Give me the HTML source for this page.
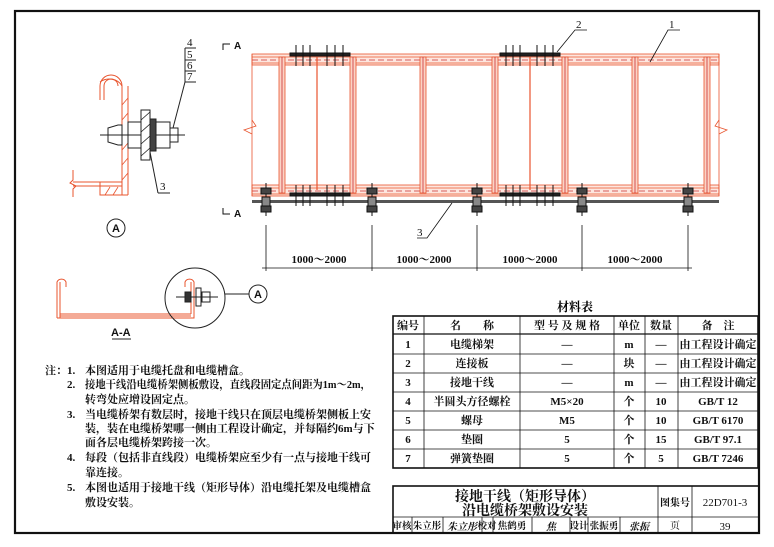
<!DOCTYPE html>
<html><head><meta charset="utf-8"><style>
body{margin:0;background:#fff;}
svg{display:block;font-family:"Liberation Serif","Noto Serif CJK SC","Noto Sans CJK SC",serif;}
.cn{font-family:"Liberation Serif","Noto Serif CJK SC",serif;}
</style></head><body>
<svg width="774" height="547" viewBox="0 0 774 547" xmlns="http://www.w3.org/2000/svg">
<rect x="0" y="0" width="774" height="547" fill="#fff"/>
<rect x="15" y="11" width="744" height="522" fill="none" stroke="#111" stroke-width="2.2"/>

<!-- Detail A -->
<g stroke="#e8542e" fill="none" stroke-width="1">
  <path d="M100 100 L100 86 A11 11 0 0 1 122 86 L122 195 L100 195 L100 182"/>
  <path d="M104 100 L104 86 A7 7 0 0 1 118 86"/>
  <line x1="128" y1="86" x2="128" y2="195"/>
  <path d="M122 86 A14 12 0 0 0 100 82" />
  <line x1="122" y1="195" x2="128" y2="195"/>
  <line x1="73" y1="182" x2="122" y2="182"/>
  <line x1="73" y1="186" x2="122" y2="186"/>
  <line x1="100" y1="195" x2="122" y2="195"/>
  <path d="M73 170 L73 180 L70 183 L76 186 L73 189 L73 197"/>
  <g stroke-width="0.8">
   <line x1="122" y1="105" x2="128" y2="98"/><line x1="122" y1="120" x2="128" y2="113"/><line x1="122" y1="150" x2="128" y2="143"/><line x1="122" y1="165" x2="128" y2="158"/><line x1="122" y1="180" x2="128" y2="173"/>
   <line x1="105" y1="195" x2="110" y2="187"/><line x1="113" y1="195" x2="118" y2="187"/>
  </g>
</g>
<g stroke="#222" fill="none" stroke-width="1">
  <line x1="100" y1="135" x2="185" y2="135"/>
  <path d="M108 128 L118 125 L122 125 L122 145 L118 145 L108 142 Z"/>
  <rect x="128" y="122" width="13" height="26"/>
  <rect x="141" y="110" width="9" height="50" fill="#fff"/>
  <g stroke-width="0.8"><line x1="141" y1="120" x2="150" y2="112"/><line x1="141" y1="132" x2="150" y2="124"/><line x1="141" y1="144" x2="150" y2="136"/><line x1="141" y1="156" x2="150" y2="148"/></g>
  <rect x="150" y="119" width="6" height="32" fill="#444"/>
  <rect x="156" y="122" width="14" height="26"/>
  <rect x="170" y="128" width="8" height="14"/>
  <line x1="185" y1="48" x2="185" y2="82"/>
  <line x1="185" y1="48" x2="196" y2="48"/><line x1="185" y1="60" x2="196" y2="60"/><line x1="185" y1="71" x2="196" y2="71"/><line x1="185" y1="82" x2="196" y2="82"/>
  <line x1="185" y1="82" x2="173" y2="128"/>
  <line x1="150" y1="152" x2="158" y2="193"/><line x1="158" y1="193" x2="170" y2="193"/>
  <circle cx="116" cy="228" r="9"/>
</g>
<g font-size="11" fill="#111">
  <text x="187" y="46">4</text><text x="187" y="58">5</text><text x="187" y="69">6</text><text x="187" y="80">7</text>
  <text x="160" y="190">3</text>
  <text x="112" y="232" font-weight="bold" font-family="Liberation Sans">A</text>
</g>

<!-- A-A -->
<g stroke="#e8542e" fill="none" stroke-width="1">
  <path d="M57 318 L57 282 A5 5 0 0 1 66 282 L66 287"/>
  <path d="M60 318 L60 282"/>
  <path d="M57 318 L194 318 L194 282 A5 5 0 0 0 185 282 L185 287"/>
  <line x1="60" y1="314" x2="191" y2="314"/>
  <line x1="191" y1="282" x2="191" y2="314"/>
  <line x1="60" y1="316" x2="191" y2="316"/>
</g>
<g stroke="#222" fill="none" stroke-width="1">
  <circle cx="195" cy="298" r="30"/>
  <line x1="176" y1="297" x2="218" y2="297"/>
  <rect x="185" y="292" width="6" height="10" fill="#333"/>
  <rect x="196" y="288" width="5" height="18"/>
  <rect x="202" y="292" width="8" height="10"/>
  <line x1="225" y1="294" x2="249" y2="294"/>
  <circle cx="258" cy="294" r="9"/>
  <line x1="112" y1="339" x2="131" y2="339"/>
</g>
<g font-size="11" fill="#111" font-weight="bold" font-family="Liberation Sans">
  <text x="254" y="298">A</text>
  <text x="111" y="336">A-A</text>
</g>

<!-- Plan view -->
<g font-size="10" font-weight="bold" fill="#111" font-family="Liberation Sans">
  <path d="M223 50 L223 44 L230 44" stroke="#111" fill="none"/><text x="234" y="49">A</text>
  <path d="M223 208 L223 214 L230 214" stroke="#111" fill="none"/><text x="234" y="217">A</text>
</g>
<g fill="#fde6df" stroke="#e8542e" stroke-width="0.8">
  <rect x="252" y="54" width="467" height="11"/>
  <rect x="252" y="185" width="467" height="11"/>
</g>
<g stroke="#e8542e" stroke-width="0.8" fill="none">
  <line x1="252" y1="57" x2="719" y2="57"/><line x1="252" y1="63" x2="719" y2="63"/>
  <line x1="252" y1="188" x2="719" y2="188"/><line x1="252" y1="194" x2="719" y2="194"/>
  <line x1="252" y1="60" x2="719" y2="60" stroke="#c33" stroke-dasharray="6 3"/>
  <line x1="252" y1="191" x2="719" y2="191" stroke="#c33" stroke-dasharray="6 3"/>
  <line x1="252" y1="54" x2="252" y2="196"/><line x1="719" y1="54" x2="719" y2="196"/>
  <path d="M252 120 L256 126 L244 130 L252 134"/>
  <path d="M719 120 L715 126 L727 130 L719 134"/>
  <line x1="317" y1="57" x2="317" y2="190" stroke-width="1.2"/>
  <line x1="530" y1="57" x2="530" y2="190" stroke-width="1.2"/>
</g>
<g fill="#fbd3c6" stroke="#e8542e" stroke-width="0.8">
  <rect x="279" y="57" width="6" height="136"/><rect x="350" y="57" width="6" height="136"/><rect x="420" y="57" width="6" height="136"/><rect x="492" y="57" width="6" height="136"/><rect x="562" y="57" width="6" height="136"/><rect x="632" y="57" width="6" height="136"/><rect x="704" y="57" width="6" height="136"/>
</g>
<g stroke="#c33" stroke-width="0.8">
  <line x1="282" y1="57" x2="282" y2="193"/><line x1="353" y1="57" x2="353" y2="193"/><line x1="423" y1="57" x2="423" y2="193"/><line x1="495" y1="57" x2="495" y2="193"/><line x1="565" y1="57" x2="565" y2="193"/><line x1="635" y1="57" x2="635" y2="193"/><line x1="707" y1="57" x2="707" y2="193"/>
</g>
<rect x="252" y="200" width="467" height="3" fill="#555"/>
<g stroke="#111" stroke-width="1" fill="#222">
  <g id="cl">
    <rect x="290" y="53" width="60" height="3"/>
    <line x1="296" y1="45" x2="296" y2="66"/><line x1="303" y1="45" x2="303" y2="66"/><line x1="310" y1="45" x2="310" y2="66"/>
    <line x1="327" y1="45" x2="327" y2="66"/><line x1="335" y1="45" x2="335" y2="66"/><line x1="343" y1="45" x2="343" y2="66"/>
  </g>
  <use href="#cl" x="210" y="0"/>
  <use href="#cl" x="0" y="140"/>
  <use href="#cl" x="210" y="140"/>
</g>
<g stroke="#111" stroke-width="1" fill="#444">
  <g id="gb">
    <line x1="266" y1="183" x2="266" y2="216"/>
    <rect x="261" y="188" width="10" height="6"/>
    <rect x="262" y="197" width="8" height="9" fill="#888"/>
    <rect x="261" y="206" width="10" height="6"/>
  </g>
  <use href="#gb" x="106"/><use href="#gb" x="211"/><use href="#gb" x="316"/><use href="#gb" x="422"/>
</g>
<g stroke="#111" stroke-width="0.8" fill="none">
  <line x1="266" y1="225" x2="266" y2="271"/><line x1="372" y1="225" x2="372" y2="271"/><line x1="477" y1="225" x2="477" y2="271"/><line x1="582" y1="225" x2="582" y2="271"/><line x1="688" y1="225" x2="688" y2="271"/>
  <line x1="262" y1="268" x2="692" y2="268"/>
</g>
<g font-size="11" fill="#111" text-anchor="middle" font-weight="bold">
  <text x="319" y="263">1000～2000</text><text x="424" y="263">1000～2000</text><text x="530" y="263">1000～2000</text><text x="635" y="263">1000～2000</text>
</g>
<g stroke="#111" stroke-width="0.8" fill="none">
  <path d="M557 52 L575 30 L587 30"/>
  <path d="M650 62 L668 30 L680 30"/>
  <path d="M452 203 L427 238 L417 238"/>
</g>
<g font-size="11" fill="#111">
  <text x="576" y="28">2</text><text x="669" y="28">1</text><text x="417" y="236">3</text>
</g>

<!-- Material table -->
<text x="575" y="311" font-size="12" font-weight="bold" text-anchor="middle" class="cn">材料表</text>
<g stroke="#111" fill="none">
  <rect x="393" y="316" width="365" height="152" stroke-width="1.6"/>
  <g stroke-width="0.8">
    <line x1="424" y1="316" x2="424" y2="468"/><line x1="520" y1="316" x2="520" y2="468"/><line x1="614" y1="316" x2="614" y2="468"/><line x1="645" y1="316" x2="645" y2="468"/><line x1="678" y1="316" x2="678" y2="468"/>
    <line x1="393" y1="354" x2="758" y2="354"/><line x1="393" y1="373" x2="758" y2="373"/><line x1="393" y1="392" x2="758" y2="392"/><line x1="393" y1="411" x2="758" y2="411"/><line x1="393" y1="430" x2="758" y2="430"/><line x1="393" y1="449" x2="758" y2="449"/>
  </g>
  <line x1="393" y1="334" x2="758" y2="334" stroke-width="1.3"/>
</g>
<g font-size="11" fill="#111" text-anchor="middle" class="cn" font-weight="bold">
  <text x="408" y="329">编号</text><text x="472" y="329">名　　称</text><text x="567" y="329">型 号 及 规 格</text><text x="629" y="329">单位</text><text x="661" y="329">数量</text><text x="718" y="329">备　注</text>
  <text x="408" y="348">1</text><text x="472" y="348">电缆梯架</text><text x="567" y="348">—</text><text x="629" y="348">m</text><text x="661" y="348">—</text><text x="718" y="348">由工程设计确定</text>
  <text x="408" y="367">2</text><text x="472" y="367">连接板</text><text x="567" y="367">—</text><text x="629" y="367">块</text><text x="661" y="367">—</text><text x="718" y="367">由工程设计确定</text>
  <text x="408" y="386">3</text><text x="472" y="386">接地干线</text><text x="567" y="386">—</text><text x="629" y="386">m</text><text x="661" y="386">—</text><text x="718" y="386">由工程设计确定</text>
  <text x="408" y="405">4</text><text x="472" y="405">半圆头方径螺栓</text><text x="567" y="405">M5×20</text><text x="629" y="405">个</text><text x="661" y="405">10</text><text x="718" y="405">GB/T 12</text>
  <text x="408" y="424">5</text><text x="472" y="424">螺母</text><text x="567" y="424">M5</text><text x="629" y="424">个</text><text x="661" y="424">10</text><text x="718" y="424">GB/T 6170</text>
  <text x="408" y="443">6</text><text x="472" y="443">垫圈</text><text x="567" y="443">5</text><text x="629" y="443">个</text><text x="661" y="443">15</text><text x="718" y="443">GB/T 97.1</text>
  <text x="408" y="462">7</text><text x="472" y="462">弹簧垫圈</text><text x="567" y="462">5</text><text x="629" y="462">个</text><text x="661" y="462">5</text><text x="718" y="462">GB/T 7246</text>
</g>

<!-- Title block -->
<g stroke="#111" fill="none">
  <rect x="393" y="486" width="366" height="47" stroke-width="1.6"/>
  <g stroke-width="0.8">
    <line x1="393" y1="517" x2="759" y2="517"/>
    <line x1="658" y1="486" x2="658" y2="533"/><line x1="692" y1="486" x2="692" y2="533"/>
    <line x1="412" y1="517" x2="412" y2="533"/><line x1="443" y1="517" x2="443" y2="533"/><line x1="482" y1="517" x2="482" y2="533"/><line x1="493" y1="517" x2="493" y2="533"/><line x1="532" y1="517" x2="532" y2="533"/><line x1="570" y1="517" x2="570" y2="533"/><line x1="588" y1="517" x2="588" y2="533"/><line x1="620" y1="517" x2="620" y2="533"/>
  </g>
</g>
<g fill="#111" class="cn" text-anchor="middle">
  <text x="525" y="501" font-size="14" font-weight="bold">接地干线（矩形导体）</text>
  <text x="525" y="515" font-size="14" font-weight="bold">沿电缆桥架敷设安装</text>
  <text x="675" y="506" font-size="10" font-weight="bold">图集号</text>
  <text x="725" y="506" font-size="11">22D701-3</text>
  <text x="675" y="529" font-size="10">页</text>
  <text x="725" y="530" font-size="11">39</text>
  <g font-size="9.5" font-weight="bold">
    <text x="402" y="529">审核</text><text x="427" y="529">朱立彤</text><text x="487" y="529">校对</text><text x="512" y="529">焦鹤勇</text><text x="579" y="529">设计</text><text x="604" y="529">张振勇</text>
  </g>
  <g font-size="10" font-style="italic" font-weight="bold">
    <text x="462" y="530">朱立彤</text><text x="551" y="530">焦</text><text x="639" y="530">张振</text>
  </g>
</g>

<!-- Notes -->
<g font-size="11" fill="#111" class="cn" font-weight="bold">
  <text x="45" y="374">注：</text>
  <text x="67" y="374">1.</text><text x="85" y="374">本图适用于电缆托盘和电缆槽盒。</text>
  <text x="67" y="388">2.</text><text x="85" y="388" textLength="286" lengthAdjust="spacingAndGlyphs">接地干线沿电缆桥架侧板敷设，直线段固定点间距为1m～2m，</text>
  <text x="85" y="403">转弯处应增设固定点。</text>
  <text x="67" y="418">3.</text><text x="85" y="418">当电缆桥架有数层时，接地干线只在顶层电缆桥架侧板上安</text>
  <text x="85" y="432">装，装在电缆桥架哪一侧由工程设计确定，并每隔约6m与下</text>
  <text x="85" y="446">面各层电缆桥架跨接一次。</text>
  <text x="67" y="461">4.</text><text x="85" y="461">每段（包括非直线段）电缆桥架应至少有一点与接地干线可</text>
  <text x="85" y="476">靠连接。</text>
  <text x="67" y="491">5.</text><text x="85" y="491">本图也适用于接地干线（矩形导体）沿电缆托架及电缆槽盒</text>
  <text x="85" y="506">敷设安装。</text>
</g>
</svg>
</body></html>
